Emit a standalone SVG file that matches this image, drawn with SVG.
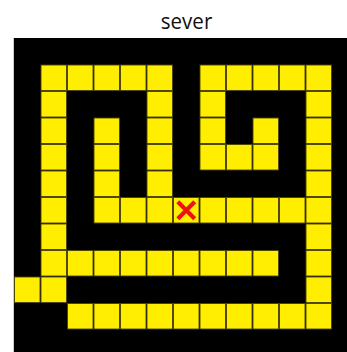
<svg xmlns="http://www.w3.org/2000/svg" xmlns:xlink="http://www.w3.org/1999/xlink" width="347" height="352" viewBox="0 0 347 352">
<style>
.t{font-family:"Open Sans","Liberation Sans",sans-serif;font-size:22px;fill:#111}
.c{fill:#FFEE00;stroke:#4a4500;stroke-width:0.9}
.x{stroke:#EE1111;stroke-width:4.2;stroke-linecap:butt;fill:none}
</style>
<defs>
<rect id="cell" class="c" width="25.5" height="25.5"/>
</defs>
<rect width="347" height="352" fill="#fff"/>
<text class="t" x="160.8" y="29.3" textLength="51.5" lengthAdjust="spacingAndGlyphs">sever</text>
<rect x="13" y="38" width="334" height="314" fill="#000"/>
<line x1="13.5" y1="38" x2="13.5" y2="352" stroke="#ccc" stroke-width="1"/>
<g id="grid">
<use xlink:href="#cell" x="41" y="65"/><use xlink:href="#cell" x="67.5" y="65"/><use xlink:href="#cell" x="94" y="65"/><use xlink:href="#cell" x="120.5" y="65"/><use xlink:href="#cell" x="147" y="65"/>
<use xlink:href="#cell" x="200" y="65"/><use xlink:href="#cell" x="226.5" y="65"/><use xlink:href="#cell" x="253" y="65"/><use xlink:href="#cell" x="279.5" y="65"/><use xlink:href="#cell" x="306" y="65"/>
<use xlink:href="#cell" x="41" y="91.5"/><use xlink:href="#cell" x="147" y="91.5"/><use xlink:href="#cell" x="200" y="91.5"/><use xlink:href="#cell" x="306" y="91.5"/>
<use xlink:href="#cell" x="41" y="118"/><use xlink:href="#cell" x="94" y="118"/><use xlink:href="#cell" x="147" y="118"/><use xlink:href="#cell" x="200" y="118"/><use xlink:href="#cell" x="253" y="118"/><use xlink:href="#cell" x="306" y="118"/>
<use xlink:href="#cell" x="41" y="144.5"/><use xlink:href="#cell" x="94" y="144.5"/><use xlink:href="#cell" x="147" y="144.5"/><use xlink:href="#cell" x="200" y="144.5"/><use xlink:href="#cell" x="226.5" y="144.5"/><use xlink:href="#cell" x="253" y="144.5"/><use xlink:href="#cell" x="306" y="144.5"/>
<use xlink:href="#cell" x="41" y="171"/><use xlink:href="#cell" x="94" y="171"/><use xlink:href="#cell" x="147" y="171"/><use xlink:href="#cell" x="306" y="171"/>
<use xlink:href="#cell" x="41" y="197.5"/><use xlink:href="#cell" x="94" y="197.5"/><use xlink:href="#cell" x="120.5" y="197.5"/><use xlink:href="#cell" x="147" y="197.5"/><use xlink:href="#cell" x="173.5" y="197.5"/><use xlink:href="#cell" x="200" y="197.5"/><use xlink:href="#cell" x="226.5" y="197.5"/><use xlink:href="#cell" x="253" y="197.5"/><use xlink:href="#cell" x="279.5" y="197.5"/><use xlink:href="#cell" x="306" y="197.5"/>
<use xlink:href="#cell" x="41" y="224"/><use xlink:href="#cell" x="306" y="224"/>
<use xlink:href="#cell" x="41" y="250.5"/><use xlink:href="#cell" x="67.5" y="250.5"/><use xlink:href="#cell" x="94" y="250.5"/><use xlink:href="#cell" x="120.5" y="250.5"/><use xlink:href="#cell" x="147" y="250.5"/><use xlink:href="#cell" x="173.5" y="250.5"/><use xlink:href="#cell" x="200" y="250.5"/><use xlink:href="#cell" x="226.5" y="250.5"/><use xlink:href="#cell" x="253" y="250.5"/><use xlink:href="#cell" x="306" y="250.5"/>
<use xlink:href="#cell" x="14.5" y="277"/><use xlink:href="#cell" x="41" y="277"/><use xlink:href="#cell" x="306" y="277"/>
<use xlink:href="#cell" x="67.5" y="303.5"/><use xlink:href="#cell" x="94" y="303.5"/><use xlink:href="#cell" x="120.5" y="303.5"/><use xlink:href="#cell" x="147" y="303.5"/><use xlink:href="#cell" x="173.5" y="303.5"/><use xlink:href="#cell" x="200" y="303.5"/><use xlink:href="#cell" x="226.5" y="303.5"/><use xlink:href="#cell" x="253" y="303.5"/><use xlink:href="#cell" x="279.5" y="303.5"/><use xlink:href="#cell" x="306" y="303.5"/>
</g>
<g id="marker">
<path class="x" d="M177.8 201.8 L194.7 218.7 M194.7 201.8 L177.8 218.7"/>
</g>
</svg>
